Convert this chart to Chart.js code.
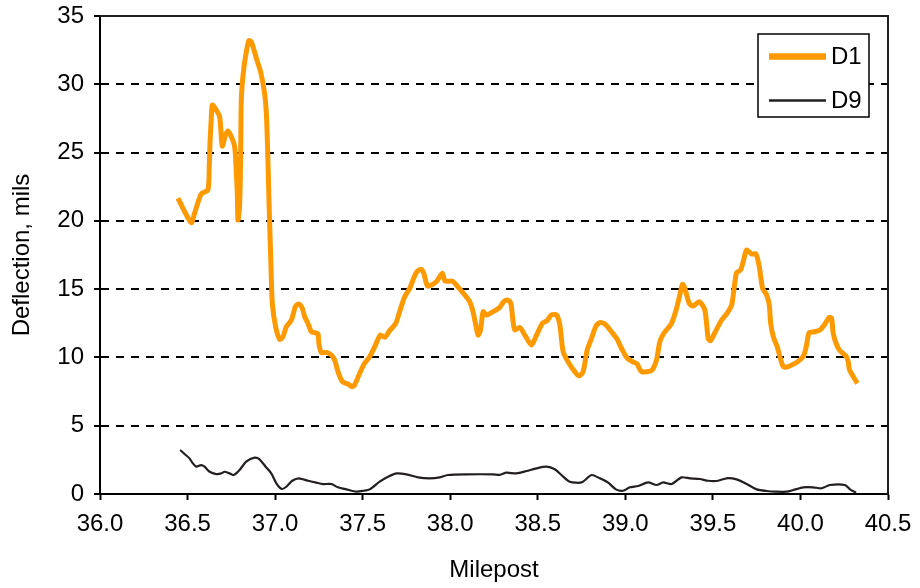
<!DOCTYPE html>
<html>
<head>
<meta charset="utf-8">
<title>Deflection by Milepost</title>
<script src="https://cdn.jsdelivr.net/npm/chart.js@4.4.1/dist/chart.umd.min.js"></script>
<style>
  html, body { margin: 0; padding: 0; background: #ffffff; }
  #wrap { width: 920px; height: 588px; }
</style>
</head>
<body>
<div id="wrap"><canvas id="chart" width="920" height="588"></canvas></div>
<script>
// Sensor D1 (closest to load) deflection along the route
const d1Milepost = [
  36.445, 36.521, 36.540, 36.578, 36.616, 36.624, 36.628, 36.635, 36.641, 36.654,
  36.683, 36.698, 36.717, 36.730, 36.750, 36.769, 36.778, 36.784, 36.788, 36.797,
  36.803, 36.807, 36.816, 36.831, 36.850, 36.864, 36.893, 36.917, 36.940, 36.950,
  36.959, 36.966, 36.972, 36.976, 36.984, 37.003, 37.026, 37.045, 37.064, 37.093,
  37.117, 37.136, 37.155, 37.169, 37.187, 37.207, 37.226, 37.245, 37.250, 37.264,
  37.293, 37.321, 37.340, 37.359, 37.384, 37.416, 37.441, 37.454, 37.483, 37.511,
  37.540, 37.569, 37.601, 37.626, 37.654, 37.689, 37.711, 37.740, 37.769, 37.791,
  37.810, 37.835, 37.849, 37.870, 37.893, 37.921, 37.955, 37.970, 38.013, 38.045,
  38.083, 38.111, 38.130, 38.146, 38.159, 38.173, 38.188, 38.207, 38.245, 38.283,
  38.306, 38.330, 38.346, 38.359, 38.369, 38.397, 38.426, 38.464, 38.493, 38.527,
  38.553, 38.578, 38.607, 38.626, 38.645, 38.673, 38.711, 38.736, 38.759, 38.782,
  38.807, 38.831, 38.854, 38.883, 38.921, 38.950, 38.978, 39.007, 39.041, 39.067,
  39.093, 39.150, 39.178, 39.197, 39.220, 39.264, 39.293, 39.311, 39.327, 39.340,
  39.365, 39.387, 39.422, 39.454, 39.473, 39.487, 39.511, 39.550, 39.578, 39.607,
  39.620, 39.635, 39.658, 39.673, 39.693, 39.721, 39.746, 39.765, 39.784, 39.807,
  39.822, 39.830, 39.845, 39.867, 39.883, 39.902, 39.930, 39.969, 39.997, 40.020,
  40.035, 40.050, 40.083, 40.111, 40.140, 40.165, 40.178, 40.187, 40.207, 40.226,
  40.260, 40.273, 40.279, 40.302, 40.325
];
const d1Deflection = [
  21.65, 19.87, 20.55, 21.97, 22.26, 23.97, 25.68, 27.39, 28.48, 28.31,
  27.63, 25.48, 26.29, 26.58, 26.16, 25.43, 23.72, 22.02, 20.06, 21.04,
  24.46, 28.85, 30.56, 32.02, 33.19, 33.12, 31.90, 30.92, 29.34, 27.88,
  24.46, 21.04, 18.50, 16.89, 13.96, 12.25, 11.33, 11.52, 12.25, 12.74,
  13.77, 13.91, 13.60, 12.98, 12.50, 11.88, 11.81, 11.72, 11.03, 10.35,
  10.37, 10.18, 9.81, 8.96, 8.23, 8.05, 7.86, 7.98, 8.84, 9.57,
  10.05, 10.79, 11.64, 11.47, 11.96, 12.50, 13.35, 14.45, 15.06, 15.79,
  16.28, 16.45, 16.16, 15.23, 15.30, 15.55, 16.16, 15.60, 15.58, 15.15,
  14.57, 14.08, 13.35, 12.37, 11.64, 12.01, 13.35, 13.11, 13.35, 13.67,
  14.08, 14.20, 13.96, 12.62, 12.01, 12.20, 11.64, 10.91, 11.64, 12.50,
  12.69, 13.11, 13.11, 12.37, 10.42, 9.69, 8.96, 8.64, 8.96, 10.54,
  11.40, 12.25, 12.55, 12.45, 11.88, 11.40, 10.67, 10.01, 9.69, 9.52,
  8.96, 9.05, 9.81, 11.15, 11.77, 12.50, 13.60, 14.57, 15.35, 15.06,
  13.96, 13.77, 14.08, 13.47, 11.40, 11.23, 11.81, 12.74, 13.18, 13.84,
  14.94, 16.20, 16.40, 17.01, 17.87, 17.57, 17.57, 16.64, 15.06, 14.57,
  13.84, 12.50, 11.52, 10.79, 10.05, 9.32, 9.32, 9.57, 9.81, 10.18,
  10.91, 11.81, 11.88, 12.01, 12.45, 12.94, 12.86, 11.77, 10.91, 10.49,
  10.10, 9.69, 9.13, 8.59, 8.10
];

// Sensor D9 (outermost) deflection along the route
const d9Milepost = [
  36.458, 36.483, 36.511, 36.530, 36.550, 36.578, 36.597, 36.626, 36.664, 36.693,
  36.711, 36.740, 36.763, 36.797, 36.835, 36.883, 36.911, 36.946, 36.978, 37.010,
  37.039, 37.064, 37.098, 37.136, 37.187, 37.235, 37.273, 37.321, 37.359, 37.407,
  37.464, 37.506, 37.540, 37.597, 37.645, 37.696, 37.750, 37.816, 37.883, 37.940,
  37.987, 38.093, 38.245, 38.283, 38.321, 38.378, 38.435, 38.493, 38.550, 38.597,
  38.635, 38.683, 38.750, 38.807, 38.854, 38.902, 38.946, 38.987, 39.026, 39.073,
  39.130, 39.178, 39.216, 39.264, 39.321, 39.369, 39.426, 39.473, 39.530, 39.578,
  39.635, 39.693, 39.750, 39.807, 39.864, 39.921, 39.959, 40.016, 40.073, 40.121,
  40.168, 40.254, 40.283, 40.318
];
const d9Deflection = [
  3.22, 2.93, 2.61, 2.25, 2.00, 2.12, 2.00, 1.63, 1.46, 1.51,
  1.63, 1.51, 1.39, 1.76, 2.37, 2.66, 2.54, 2.00, 1.51, 0.73,
  0.37, 0.53, 0.97, 1.15, 0.97, 0.83, 0.73, 0.73, 0.49, 0.34,
  0.17, 0.24, 0.34, 0.90, 1.27, 1.51, 1.44, 1.22, 1.15, 1.22,
  1.39, 1.44, 1.44, 1.40, 1.56, 1.51, 1.68, 1.88, 2.00, 1.81,
  1.39, 0.90, 0.85, 1.39, 1.15, 0.83, 0.34, 0.24, 0.49, 0.59,
  0.85, 0.66, 0.85, 0.73, 1.22, 1.15, 1.10, 0.97, 0.97, 1.15,
  1.07, 0.73, 0.34, 0.22, 0.17, 0.17, 0.29, 0.49, 0.49, 0.42,
  0.66, 0.66, 0.34, 0.10
];

const seriesLabels = ['D1', 'D9'];
const xTickValues = [36.0, 36.5, 37.0, 37.5, 38.0, 38.5, 39.0, 39.5, 40.0, 40.5];
const yTickValues = [0, 5, 10, 15, 20, 25, 30, 35];

const FONT = "'Liberation Sans', Arial, Helvetica, sans-serif";
const toPoints = (xs, ys) => xs.map((x, i) => ({ x: x, y: ys[i] }));

// Solid frame along the top and right of the plot, plus the boxed legend
const frameAndLegend = {
  id: 'frameAndLegend',
  afterDatasetsDraw(chart) {
    const { ctx, chartArea: a } = chart;
    ctx.save();
    ctx.strokeStyle = '#231f20';
    ctx.lineWidth = 2;
    ctx.beginPath();
    ctx.moveTo(a.left, a.top);
    ctx.lineTo(a.right, a.top);
    ctx.lineTo(a.right, a.bottom);
    ctx.stroke();

    // legend box
    const bx = 758, by = 34, bw = 111, bh = 83;
    ctx.fillStyle = '#ffffff';
    ctx.fillRect(bx, by, bw, bh);
    ctx.strokeStyle = '#000000';
    ctx.lineWidth = 1.5;
    ctx.strokeRect(bx, by, bw, bh);

    const rows = [56.5, 100.5];
    chart.data.datasets.forEach((ds, i) => {
      const y = rows[i];
      ctx.strokeStyle = ds.borderColor;
      ctx.lineWidth = ds.borderWidth + (i === 0 ? 1.5 : 0.5);
      ctx.beginPath();
      ctx.moveTo(769, y);
      ctx.lineTo(826, y);
      ctx.stroke();
      ctx.fillStyle = '#000000';
      ctx.font = '24px ' + FONT;
      ctx.textBaseline = 'middle';
      ctx.textAlign = 'left';
      ctx.fillText(ds.label, 831, y + 1);
    });
    ctx.restore();
  }
};

new Chart(document.getElementById('chart'), {
  type: 'line',
  data: {
    datasets: [
      {
        label: seriesLabels[0],
        data: toPoints(d1Milepost, d1Deflection),
        borderColor: '#ff9900',
        borderWidth: 5,
        pointRadius: 0,
        tension: 0.25,
        fill: false
      },
      {
        label: seriesLabels[1],
        data: toPoints(d9Milepost, d9Deflection),
        borderColor: '#231f20',
        borderWidth: 2.2,
        pointRadius: 0,
        tension: 0.25,
        fill: false
      }
    ]
  },
  options: {
    responsive: false,
    animation: false,
    devicePixelRatio: 1,
    layout: { padding: { top: 16, right: 32, left: 0, bottom: 0 } },
    plugins: {
      legend: { display: false },
      tooltip: { enabled: false }
    },
    scales: {
      x: {
        type: 'linear',
        position: 'bottom',
        min: 36,
        max: 40.5,
        afterBuildTicks: (s) => { s.ticks = xTickValues.map(v => ({ value: v })); },
        afterFit: (s) => { s.height = 94; s.paddingLeft = 0; s.paddingRight = 0; },
        grid: {
          drawOnChartArea: false,
          drawTicks: true,
          tickLength: 6,
          tickColor: '#000000',
          tickWidth: 2
        },
        border: { display: true, color: '#000000', width: 2 },
        ticks: {
          color: '#000000',
          font: { family: FONT, size: 24 },
          padding: 10,
          maxRotation: 0,
          autoSkip: false,
          callback: (v) => Number(v).toFixed(1)
        },
        title: {
          display: true,
          text: 'Milepost',
          color: '#000000',
          font: { family: FONT, size: 24 },
          padding: { top: 0, bottom: 3 }
        }
      },
      y: {
        type: 'linear',
        position: 'left',
        min: 0,
        max: 35,
        afterBuildTicks: (s) => { s.ticks = yTickValues.map(v => ({ value: v })); },
        afterFit: (s) => { s.width = 100; s.paddingTop = 0; s.paddingBottom = 0; },
        grid: {
          drawOnChartArea: true,
          color: '#000000',
          lineWidth: 2,
          drawTicks: true,
          tickLength: 6,
          tickColor: '#000000',
          tickWidth: 2,
          tickBorderDash: []
        },
        border: { display: true, color: '#000000', width: 2, dash: [8, 7] },
        ticks: {
          color: '#000000',
          font: { family: FONT, size: 24 },
          padding: 10,
          autoSkip: false,
          callback: (v) => String(v)
        },
        title: {
          display: true,
          text: 'Deflection, mils',
          color: '#000000',
          font: { family: FONT, size: 24 },
          padding: { top: 8, bottom: 0 }
        }
      }
    }
  },
  plugins: [frameAndLegend]
});
</script>
</body>
</html>
